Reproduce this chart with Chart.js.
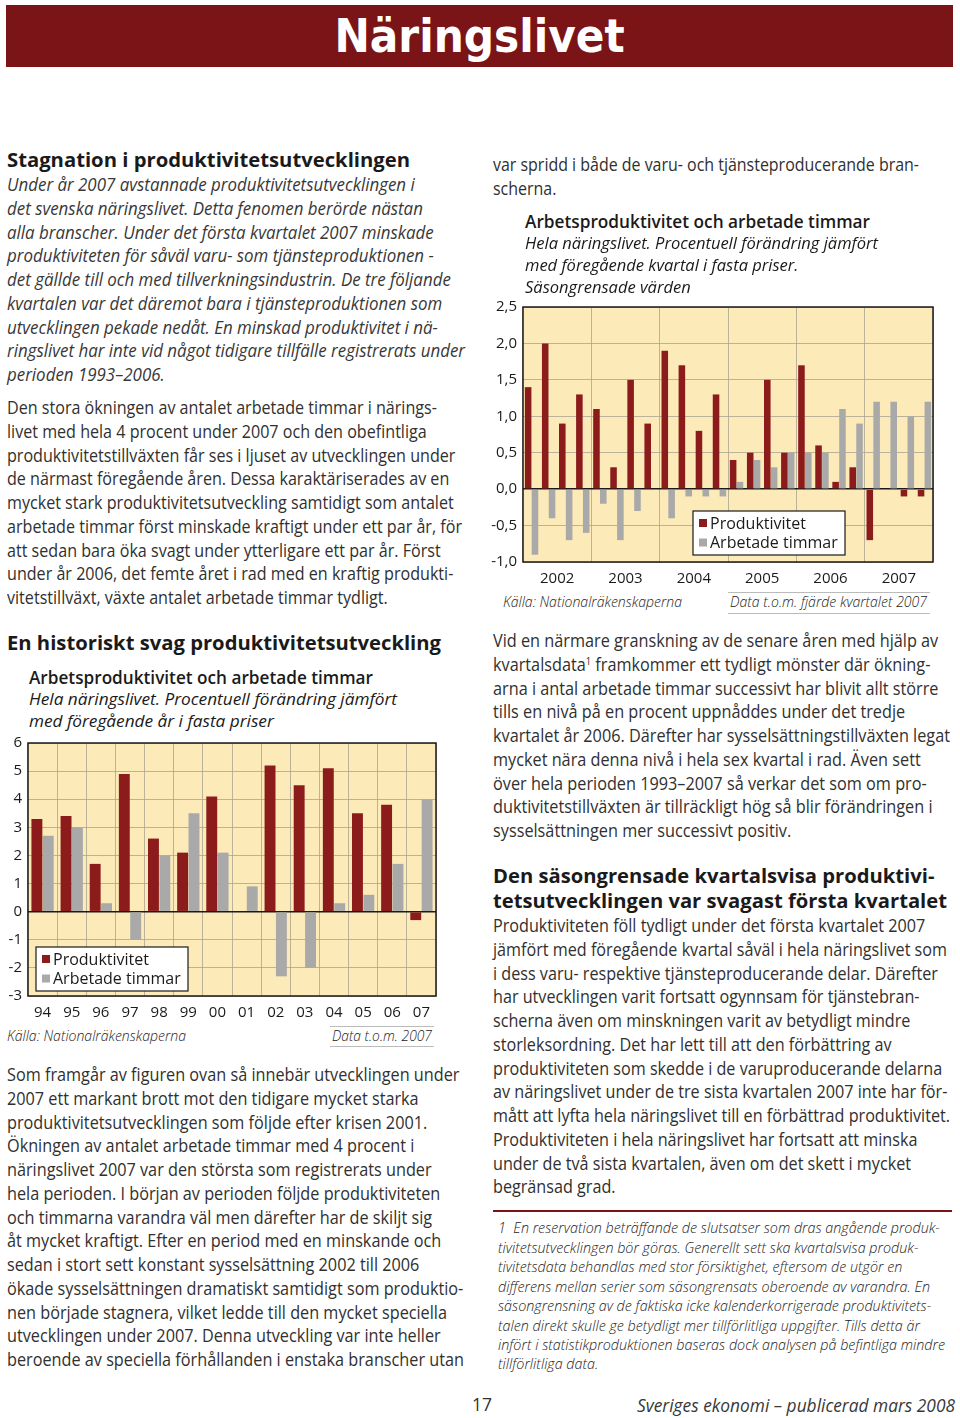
<!DOCTYPE html>
<html lang="sv">
<head>
<meta charset="utf-8">
<title>Näringslivet</title>
<script src="https://cdn.jsdelivr.net/npm/chart.js@4.4.1/dist/chart.umd.min.js"></script>
<style>
  html, body { margin: 0; padding: 0; background: #fff; }
  body { width: 960px; height: 1418px; position: relative; overflow: hidden;
         font-family: "Open Sans", "Noto Sans", sans-serif; color: #2a2a2a; }
  .abs { position: absolute; transform-origin: left top; }
  .r { transform-origin: right top; }
  .ln { display: block; width: max-content; white-space: nowrap; }
  .body { font-size: 17.5px; font-weight: 400; color: #303030; }
  .it { font-style: italic; font-weight: 400; color: #383838; }
  .h { font-size: 19px; font-weight: 700; color: #1a1a1a; }
  .ct { font-size: 17.5px; font-weight: 600; color: #1a1a1a; }
  .cs { font-size: 16px; font-style: italic; font-weight: 400; color: #1a1a1a; }
  .src { font-size: 14.5px; font-style: italic; font-weight: 300; color: #222; }
  .fn { font-size: 14px; font-style: italic; font-weight: 300; color: #222; }
  sup { font-size: 10px; line-height: 0; vertical-align: 6px; }
  #banner { position: absolute; left: 6px; top: 5px; width: 947px; height: 62px; background: #7b1416; }
  #banner div { font-family: "DejaVu Sans Condensed", "DejaVu Sans", sans-serif; font-weight: bold;
                font-size: 47px; color: #fff; text-align: center; line-height: 62px; }
  .chartbox { position: absolute; }
  .rule { position: absolute; height: 0; }
</style>
</head>
<body>
<div id="banner"><div>Näringslivet</div></div>

<div class="chartbox" style="left:0px; top:733px; width:440px; height:290px;"><canvas id="yearChart"></canvas></div>
<div class="chartbox" style="left:490px; top:297px; width:450px; height:290px;"><canvas id="quarterChart"></canvas></div>

<div class="rule" style="left:330px; top:1026px; width:104px; border-top:1px solid #bbb;"></div>
<div class="rule" style="left:330px; top:1046px; width:104px; border-top:1px solid #bbb;"></div>
<div class="rule" style="left:728px; top:592px; width:202px; border-top:1px solid #bbb;"></div>
<div class="rule" style="left:728px; top:613px; width:202px; border-top:1px solid #bbb;"></div>
<div class="rule" style="left:493px; top:1210px; width:459px; border-top:2px solid #7b1416;"></div>

<div id="text"></div>

<script>
// --- DATA: annual chart (1994-2007) ---
const yearLabels = ['94', '95', '96', '97', '98', '99', '00', '01', '02', '03', '04', '05', '06', '07'];
const prodYear  = [3.3, 3.4, 1.7, 4.9, 2.6, 2.1, 4.1, 0.0, 5.2, 4.5, 5.1, 3.5, 3.8, -0.3];
const hoursYear = [2.7, 3.0, 0.3, -1.0, 2.0, 3.5, 2.1, 0.9, -2.3, -2.0, 0.3, 0.6, 1.7, 4.0];
const yearTicks = { min: -3, max: 6, step: 1 };

// --- DATA: quarterly chart (2002 K1 - 2007 K4) ---
const quarterLabels = ['2002K1', '2002K2', '2002K3', '2002K4', '2003K1', '2003K2', '2003K3', '2003K4',
                       '2004K1', '2004K2', '2004K3', '2004K4', '2005K1', '2005K2', '2005K3', '2005K4',
                       '2006K1', '2006K2', '2006K3', '2006K4', '2007K1', '2007K2', '2007K3', '2007K4'];
const quarterYears = ['2002', '2003', '2004', '2005', '2006', '2007'];
const prodQuarter  = [1.4, 2.0, 0.9, 1.3, 1.1, 0.3, 1.5, 0.9, 1.9, 1.7, 0.8, 1.3,
                      0.4, 0.5, 1.5, 0.5, 1.7, 0.6, 0.1, 0.3, -0.7, 0.0, -0.1, -0.1];
const hoursQuarter = [-0.9, -0.4, -0.7, -0.6, -0.2, -0.7, -0.3, 0.0, -0.4, -0.1, -0.1, -0.1,
                      0.1, 0.4, 0.3, 0.5, 0.5, 0.5, 1.1, 0.9, 1.2, 1.2, 1.0, 1.2];
const quarterTicks = { min: -1, max: 2.5, step: 0.5 };

const seriesNames = ['Produktivitet', 'Arbetade timmar'];

// --- STYLES ---
const RED = '#8c1c1c';
const GREY = '#a9a9a9';
const PANEL = '#fcebb8';
const GRID = '#aaa490';
const FONT = '"Open Sans", "Noto Sans", sans-serif';

// --- PAGE TEXT (one entry per printed line) ---
// [left, centre of first line, line height, classes, target width of widest line, lines]
const blocks = [
  [7, 160, 24, 'h', 403, ['Stagnation i produktivitetsutvecklingen']],
  [7, 185, 23.75, 'body it', 458, [
    'Under år 2007 avstannade produktivitetsutvecklingen i',
    'det svenska näringslivet. Detta fenomen berörde nästan',
    'alla branscher. Under det första kvartalet 2007 minskade',
    'produktiviteten för såväl varu- som tjänsteproduktionen -',
    'det gällde till och med tillverkningsindustrin. De tre följande',
    'kvartalen var det däremot bara i tjänsteproduktionen som',
    'utvecklingen pekade nedåt. En minskad produktivitet i nä-',
    'ringslivet har inte vid något tidigare tillfälle registrerats under',
    'perioden 1993–2006.']],
  [7, 408, 23.75, 'body', 455, [
    'Den stora ökningen av antalet arbetade timmar i närings-',
    'livet med hela 4 procent under 2007 och den obefintliga',
    'produktivitetstillväxten får ses i ljuset av utvecklingen under',
    'de närmast föregående åren. Dessa karaktäriserades av en',
    'mycket stark produktivitetsutveckling samtidigt som antalet',
    'arbetade timmar först minskade kraftigt under ett par år, för',
    'att sedan bara öka svagt under ytterligare ett par år. Först',
    'under år 2006, det femte året i rad med en kraftig produkti-',
    'vitetstillväxt, växte antalet arbetade timmar tydligt.']],
  [7, 643, 26, 'h', 434, ['En historiskt svag produktivitetsutveckling']],
  [29, 677, 22, 'ct', 344, ['Arbetsproduktivitet och arbetade timmar']],
  [29, 699, 22, 'cs', 368, ['Hela näringslivet. Procentuell förändring jämfört', 'med föregående år i fasta priser']],
  [7, 1036, 20, 'src', 179, ['Källa: Nationalräkenskaperna']],
  [7, 1075, 23.75, 'body', 457, [
    'Som framgår av figuren ovan så innebär utvecklingen under',
    '2007 ett markant brott mot den tidigare mycket starka',
    'produktivitetsutvecklingen som följde efter krisen 2001.',
    'Ökningen av antalet arbetade timmar med 4 procent i',
    'näringslivet 2007 var den största som registrerats under',
    'hela perioden. I början av perioden följde produktiviteten',
    'och timmarna varandra väl men därefter har de skiljt sig',
    'åt mycket kraftigt. Efter en period med en minskande och',
    'sedan i stort sett konstant sysselsättning 2002 till 2006',
    'ökade sysselsättningen dramatiskt samtidigt som produktio-',
    'nen började stagnera, vilket ledde till den mycket speciella',
    'utvecklingen under 2007. Denna utveckling var inte heller',
    'beroende av speciella förhållanden i enstaka branscher utan']],
  [493, 165, 23.75, 'body', 426, [
    'var spridd i både de varu- och tjänsteproducerande bran-',
    'scherna.']],
  [525, 221, 22, 'ct', 345, ['Arbetsproduktivitet och arbetade timmar']],
  [525, 243, 22, 'cs', 353, ['Hela näringslivet. Procentuell förändring jämfört',
    'med föregående kvartal i fasta priser.', 'Säsongrensade värden']],
  [503, 602, 20, 'src', 179, ['Källa: Nationalräkenskaperna']],
  [493, 641, 23.75, 'body', 457, [
    'Vid en närmare granskning av de senare åren med hjälp av',
    'kvartalsdata<sup>1</sup> framkommer ett tydligt mönster där ökning-',
    'arna i antal arbetade timmar successivt har blivit allt större',
    'tills en nivå på en procent uppnåddes under det tredje',
    'kvartalet år 2006. Därefter har sysselsättningstillväxten legat',
    'mycket nära denna nivå i hela sex kvartal i rad. Även sett',
    'över hela perioden 1993–2007 så verkar det som om pro-',
    'duktivitetstillväxten är tillräckligt hög så blir förändringen i',
    'sysselsättningen mer successivt positiv.']],
  [493, 876, 25, 'h', 454, [
    'Den säsongrensade kvartalsvisa produktivi-',
    'tetsutvecklingen var svagast första kvartalet']],
  [493, 926, 23.75, 'body', 457, [
    'Produktiviteten föll tydligt under det första kvartalet 2007',
    'jämfört med föregående kvartal såväl i hela näringslivet som',
    'i dess varu- respektive tjänsteproducerande delar. Därefter',
    'har utvecklingen varit fortsatt ogynnsam för tjänstebran-',
    'scherna även om minskningen varit av betydligt mindre',
    'storleksordning. Det har lett till att den förbättring av',
    'produktiviteten som skedde i de varuproducerande delarna',
    'av näringslivet under de tre sista kvartalen 2007 inte har för-',
    'mått att lyfta hela näringslivet till en förbättrad produktivitet.',
    'Produktiviteten i hela näringslivet har fortsatt att minska',
    'under de två sista kvartalen, även om det skett i mycket',
    'begränsad grad.']],
  [498, 1228, 19.45, 'fn', 447, [
    '1&nbsp; En reservation beträffande de slutsatser som dras angående produk-',
    'tivitetsutvecklingen bör göras. Generellt sett ska kvartalsvisa produk-',
    'tivitetsdata behandlas med stor försiktighet, eftersom de utgör en',
    'differens mellan serier som säsongrensats oberoende av varandra. En',
    'säsongrensning av de faktiska icke kalenderkorrigerade produktivitets-',
    'talen direkt skulle ge betydligt mer tillförlitliga uppgifter. Tills detta är',
    'infört i statistikproduktionen baseras dock analysen på befintliga mindre',
    'tillförlitliga data.']],
  [472, 1404, 24, 'body', 20, ['17']]
];
// right aligned lines: [right edge, centre, classes, target width, text]
const rightLines = [
  [432, 1036, 'src', 100, 'Data t.o.m. 2007'],
  [927, 602, 'src', 197, 'Data t.o.m. fjärde kvartalet 2007'],
  [955, 1405, 'body it', 318, 'Sveriges ekonomi – publicerad mars 2008']
];

const textRoot = document.getElementById('text');
blocks.forEach(b => {
  const [x, yc, lh, cls, w, lines] = b;
  const el = document.createElement('div');
  el.className = 'abs ' + cls;
  el.style.left = x + 'px';
  el.style.top = (yc - lh / 2) + 'px';
  el.style.lineHeight = lh + 'px';
  el.dataset.w = w;
  el.innerHTML = lines.map(t => '<span class="ln">' + t + '</span>').join('');
  textRoot.appendChild(el);
});
rightLines.forEach(r => {
  const [xr, yc, cls, w, t] = r;
  const el = document.createElement('div');
  el.className = 'abs r ' + cls;
  el.style.right = (960 - xr) + 'px';
  el.style.top = (yc - 12) + 'px';
  el.style.lineHeight = '24px';
  el.dataset.w = w;
  el.innerHTML = '<span class="ln">' + t + '</span>';
  textRoot.appendChild(el);
});

// squeeze or stretch each block so its widest line matches the print
function fitText() {
  document.querySelectorAll('[data-w]').forEach(el => {
    el.style.transform = 'none';
    let widest = 0;
    el.querySelectorAll('.ln').forEach(s => { widest = Math.max(widest, s.getBoundingClientRect().width); });
    if (widest > 0) el.style.transform = 'scaleX(' + (el.dataset.w / widest) + ')';
  });
}
fitText();
if (document.fonts) document.fonts.ready.then(fitText);

// --- CHART PLUGIN: yellow panel, frame and a boxed legend inside the plot ---
const panelPlugin = {
  id: 'panel',
  beforeDraw(chart, args, opts) {
    const a = chart.chartArea;
    const ctx = chart.ctx;
    ctx.save();
    ctx.fillStyle = PANEL;
    ctx.fillRect(a.left, a.top, a.right - a.left, a.bottom - a.top);
    ctx.restore();
  },
  afterDraw(chart, args, opts) {
    const a = chart.chartArea;
    const ctx = chart.ctx;
    ctx.save();
    ctx.strokeStyle = '#1a1a1a';
    ctx.lineWidth = 1.5;
    ctx.strokeRect(a.left, a.top, a.right - a.left, a.bottom - a.top);

    // legend box
    const bx = a.left + opts.offsetX;
    const by = a.bottom - opts.offsetBottom - 44;
    ctx.fillStyle = '#fff';
    ctx.fillRect(bx, by, 152, 44);
    ctx.lineWidth = 1.2;
    ctx.strokeRect(bx, by, 152, 44);
    ctx.font = '16px ' + FONT;
    ctx.textBaseline = 'middle';
    chart.data.datasets.forEach((ds, i) => {
      const cy = by + 12 + i * 19.5;
      ctx.fillStyle = ds.backgroundColor;
      ctx.fillRect(bx + 6, cy - 4, 8, 8);
      ctx.fillStyle = '#1a1a1a';
      ctx.fillText(ds.label, bx + 17, cy + 1);
    });
    ctx.restore();
  }
};

function yGrid(ctx) {
  return ctx.tick && ctx.tick.value === 0 ? '#1a1a1a' : GRID;
}
function yGridWidth(ctx) {
  return ctx.tick && ctx.tick.value === 0 ? 1.5 : 0.8;
}
// fixed axis width; the tick labels may hang over the plot edges
function fixWidth(w) {
  return axis => { axis.width = w; axis.paddingTop = 0; axis.paddingBottom = 0; };
}

// --- 1. Annual chart ---
new Chart(document.getElementById('yearChart'), {
  type: 'bar',
  data: {
    labels: yearLabels,
    datasets: [
      { label: seriesNames[0], data: prodYear, backgroundColor: RED },
      { label: seriesNames[1], data: hoursYear, backgroundColor: GREY }
    ]
  },
  options: {
    responsive: true,
    maintainAspectRatio: false,
    animation: false,
    categoryPercentage: 0.78,
    barPercentage: 0.96,
    layout: { padding: { top: 10, right: 4, left: 0, bottom: 0 } },
    plugins: {
      legend: { display: false },
      tooltip: { enabled: false },
      panel: { offsetX: 8, offsetBottom: 5 }
    },
    scales: {
      x: {
        grid: { color: GRID, lineWidth: 0.8, offset: true, drawTicks: false },
        border: { display: false },
        ticks: { color: '#1a1a1a', font: { family: FONT, size: 15 }, padding: 8, maxRotation: 0 },
        afterFit: axis => { axis.height = 27; }
      },
      y: {
        min: yearTicks.min, max: yearTicks.max,
        grid: { color: yGrid, lineWidth: yGridWidth, drawTicks: false },
        border: { display: false },
        ticks: { stepSize: yearTicks.step, color: '#1a1a1a', font: { family: FONT, size: 15 }, padding: 6 },
        afterFit: fixWidth(28)
      }
    }
  },
  plugins: [panelPlugin]
});

// --- 2. Quarterly chart ---
new Chart(document.getElementById('quarterChart'), {
  type: 'bar',
  data: {
    labels: quarterLabels,
    datasets: [
      { label: seriesNames[0], data: prodQuarter, backgroundColor: RED, xAxisID: 'x' },
      { label: seriesNames[1], data: hoursQuarter, backgroundColor: GREY, xAxisID: 'x' }
    ]
  },
  options: {
    responsive: true,
    maintainAspectRatio: false,
    animation: false,
    categoryPercentage: 0.8,
    barPercentage: 0.96,
    layout: { padding: { top: 10, right: 7, left: 0, bottom: 0 } },
    plugins: {
      legend: { display: false },
      tooltip: { enabled: false },
      panel: { offsetX: 170, offsetBottom: 7 }
    },
    scales: {
      x: { display: false },
      years: {
        type: 'category',
        position: 'bottom',
        labels: quarterYears,
        offset: true,
        grid: { color: GRID, lineWidth: 0.8, offset: true, drawTicks: false },
        border: { display: false },
        ticks: { color: '#1a1a1a', font: { family: FONT, size: 15 }, padding: 8, maxRotation: 0 },
        afterFit: axis => { axis.height = 25; }
      },
      y: {
        min: quarterTicks.min, max: quarterTicks.max,
        grid: { color: yGrid, lineWidth: yGridWidth, drawTicks: false },
        border: { display: false },
        ticks: {
          stepSize: quarterTicks.step, color: '#1a1a1a', font: { family: FONT, size: 15 }, padding: 6,
          callback: v => v.toFixed(1).replace('.', ',')
        },
        afterFit: fixWidth(33)
      }
    }
  },
  plugins: [panelPlugin]
});
</script>
</body>
</html>
